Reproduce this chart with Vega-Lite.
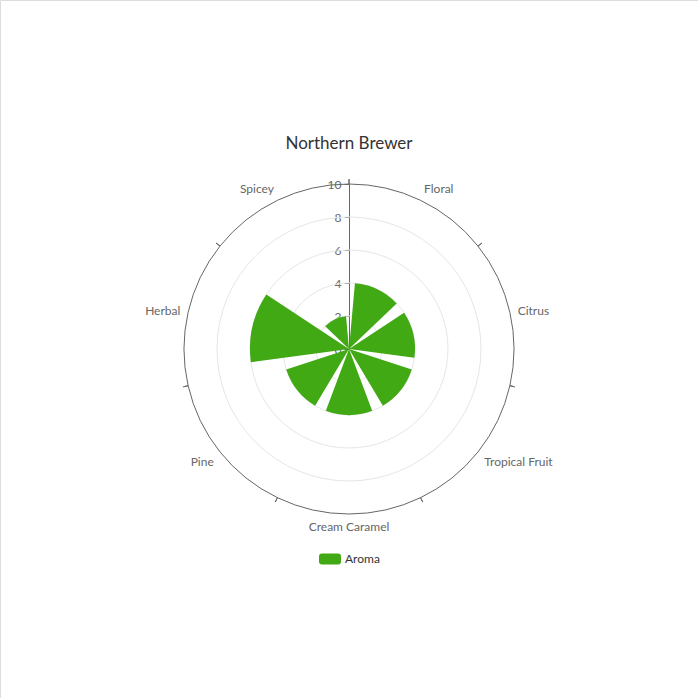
{
  "$schema": "https://vega.github.io/schema/vega-lite/v6.json",
  "width": 698,
  "height": 698,
  "autosize": "none",
  "padding": 0,
  "background": "white",
  "title": {
    "text": "Northern Brewer",
    "frame": "group",
    "anchor": "middle",
    "offset": -166,
    "baseline": "alphabetic",
    "font": "Lato",
    "fontSize": 17,
    "fontWeight": "normal",
    "color": "#333"
  },
  "datasets": {
    "aroma": [
      {"aroma": "Floral", "score": 4, "idx": 1, "series": "Aroma"},
      {"aroma": "Citrus", "score": 4, "idx": 2, "series": "Aroma"},
      {"aroma": "Tropical Fruit", "score": 4, "idx": 3, "series": "Aroma"},
      {"aroma": "Cream Caramel", "score": 4, "idx": 4, "series": "Aroma"},
      {"aroma": "Pine", "score": 4, "idx": 5, "series": "Aroma"},
      {"aroma": "Herbal", "score": 6, "idx": 6, "series": "Aroma"},
      {"aroma": "Spicey", "score": 2, "idx": 7, "series": "Aroma"}
    ],
    "rings": [{"r": 2}, {"r": 4}, {"r": 6}, {"r": 8}]
  },
  "data": {"name": "aroma"},
  "layer": [
    {
      "data": {"name": "rings"},
      "mark": {"type": "arc", "theta": 0, "theta2": 6.2832, "filled": false, "stroke": "#e6e6e6", "color": "#e6e6e6", "strokeWidth": 1},
      "encoding": {
        "radius": {"field": "r", "type": "quantitative", "stack": false, "scale": {"type": "linear", "domain": [0, 10], "range": [0, 165], "zero": true, "nice": false}}
      }
    },
    {
      "data": {"name": "rings"},
      "mark": {"type": "point", "opacity": 0},
      "encoding": {
        "y": {
          "field": "r",
          "type": "quantitative",
          "scale": {"domain": [0, 10], "range": [349, 184], "nice": false, "zero": true},
          "axis": {
            "orient": "left",
            "offset": -349,
            "values": [0, 2, 4, 6, 8, 10],
            "title": null,
            "grid": false,
            "domainColor": "#666",
            "tickColor": "#666",
            "tickSize": 5,
            "labelColor": "#666",
            "labelFont": "Lato",
            "labelFontSize": 12,
            "labelPadding": 3
          }
        }
      }
    },
    {
      "transform": [
        {"aggregate": [{"op": "count", "as": "n"}], "groupby": ["aroma", "score", "idx", "series"]},
        {"stack": "n", "groupby": [], "sort": [{"field": "idx", "order": "ascending"}], "as": ["t0", "t1"]}
      ],
      "mark": {"type": "arc", "padAngle": 0.18},
      "encoding": {
        "theta": {"field": "t0", "type": "quantitative", "scale": {"domain": [0, 7], "zero": true, "nice": false}},
        "theta2": {"field": "t1"},
        "radius": {"field": "score", "type": "quantitative", "scale": {"type": "linear", "domain": [0, 10], "range": [0, 165], "zero": true, "nice": false}},
        "color": {
          "field": "series",
          "type": "nominal",
          "scale": {"range": ["#41a913"]},
          "legend": {
            "orient": "none",
            "legendX": 319,
            "legendY": 548,
            "title": null,
            "padding": 0,
            "symbolType": "M-0.73,-0.5 L0.73,-0.5 Q1,-0.5 1,-0.23 L1,0.23 Q1,0.5 0.73,0.5 L-0.73,0.5 Q-1,0.5 -1,0.23 L-1,-0.23 Q-1,-0.5 -0.73,-0.5 Z",
            "symbolSize": 484,
            "symbolStrokeWidth": 0,
            "symbolOpacity": 1,
            "labelFont": "Lato",
            "labelFontSize": 12,
            "labelColor": "#333",
            "labelOffset": 4
          }
        }
      }
    },
    {
      "mark": {"type": "arc", "filled": false, "stroke": "#666", "color": "#666", "strokeWidth": 1, "strokeDash": [0, 152.55, 158.1, 1000]},
      "encoding": {
        "theta": {"aggregate": "count", "type": "quantitative", "stack": true},
        "radius": {"datum": 10.3, "type": "quantitative", "scale": {"type": "linear", "domain": [0, 10], "range": [0, 165], "zero": true, "nice": false}},
        "radius2": {"datum": 10},
        "detail": {"field": "aroma"},
        "order": {"field": "idx", "type": "quantitative"}
      }
    },
    {
      "mark": {
        "type": "text",
        "radiusOffset": 8,
        "font": "Lato",
        "fontSize": 12,
        "color": "#666",
        "align": {"expr": "datum.aroma === 'Cream Caramel' ? 'center' : (indexof(['Floral', 'Citrus', 'Tropical Fruit'], datum.aroma) >= 0 ? 'left' : 'right')"},
        "baseline": {"expr": "indexof(['Citrus', 'Herbal'], datum.aroma) >= 0 ? 'middle' : (indexof(['Floral', 'Spicey'], datum.aroma) >= 0 ? 'alphabetic' : 'top')"}
      },
      "encoding": {
        "theta": {"aggregate": "count", "type": "quantitative", "stack": true},
        "radius": {"datum": 10, "type": "quantitative", "scale": {"type": "linear", "domain": [0, 10], "range": [0, 165], "zero": true, "nice": false}},
        "text": {"field": "aroma"},
        "order": {"field": "idx", "type": "quantitative"}
      }
    }
  ]
}
